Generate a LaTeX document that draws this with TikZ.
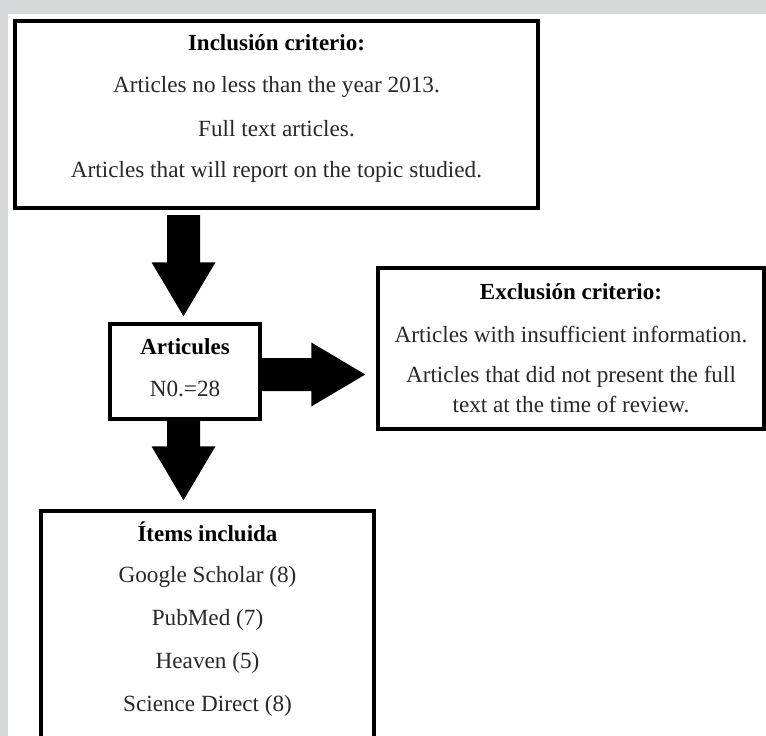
\documentclass[tikz,border=0pt]{standalone}
\usepackage{fontspec}
\setmainfont{Liberation Serif}
\usetikzlibrary{calc}
\definecolor{bandgrey}{RGB}{214,215,217}
\definecolor{txt}{RGB}{40,40,40}
\tikzset{
  box/.style={draw=black, line width=3.5pt, fill=white, inner sep=0pt},
  lbl/.style={text=txt, inner sep=0pt, font=\fontsize{23.2}{30}\selectfont, align=center},
  head/.style={lbl, font=\fontsize{23}{30}\selectfont\bfseries, text=black},
  blk/.style={fill=black}
}
\newcommand\dnblock[2]{%
  \fill[blk] ($(#1)+(-16.5,0)$) -- ($(#1)+(16.5,0)$) -- ($(#2)+(16.5,-54)$) -- ($(#2)+(32,-54)$) -- (#2) -- ($(#2)+(-32,-54)$) -- ($(#2)+(-16.5,-54)$) -- cycle;}
\newcommand\rtblock[2]{%
  \fill[blk] ($(#1)+(0,-16.5)$) -- ($(#1)+(0,16.5)$) -- ($(#2)+(-54,16.5)$) -- ($(#2)+(-54,32)$) -- (#2) -- ($(#2)+(-54,-32)$) -- ($(#2)+(-54,-16.5)$) -- cycle;}
\begin{document}
\begin{tikzpicture}[x=1pt,y=-1pt]
\useasboundingbox (0,0) rectangle (766,736);
\clip (0,0) rectangle (766,736);
\fill[white] (0,0) rectangle (766,736);
\fill[bandgrey] (0,0) rectangle (766,14);
\fill[bandgrey] (0,0) rectangle (7.5,736);

% boxes
\node[box, line width=4pt, minimum width=523pt, minimum height=187pt] (inc) at (276.5,114.5) {};
\node[box, minimum width=150pt, minimum height=95pt] (art) at (185,371.5) {};
\node[box, minimum width=386pt, minimum height=161pt] (exc) at (571,348.5) {};
\node[box, minimum width=333pt, minimum height=228pt] (itm) at (207.5,625) {};

% texts
\node[head] (inc1) at (276.5,43) {Inclusión criterio:};
\node[lbl] (inc2) at (276.5,87) {Articles no less than the year 2013.};
\node[lbl] (inc3) at (276.5,129) {Full text articles.};
\node[lbl] (inc4) at (276.5,172) {Articles that will report on the topic studied.};

\node[head] (art1) at (185,347) {Articules};
\node[lbl] (art2) at (185,389) {N0.=28};

\node[head] (exc1) at (571,292) {Exclusión criterio:};
\node[lbl] (exc2) at (571,334) {Articles with insufficient information.};
\node[lbl] (exc3) at (571,389) {Articles that did not present the full\\text at the time of review.};

\node[head] (itm1) at (207.5,532) {Ítems incluida};
\node[lbl] (itm2) at (207.5,577) {Google Scholar (8)};
\node[lbl] (itm3) at (207.5,620) {PubMed (7)};
\node[lbl] (itm4) at (207.5,663) {Heaven (5)};
\node[lbl] (itm5) at (207.5,706) {Science Direct (8)};

% block arrows
\coordinate (a1s) at ($(art.north |- inc.south)+(-1.5,5)$);
\coordinate (a1t) at ($(art.north)+(-1.5,-6)$);
\dnblock{a1s}{a1t}
\coordinate (a2s) at ($(art.east)+(0,3)$);
\coordinate (a2t) at ($(exc.west |- a2s)+(-11,0)$);
\rtblock{a2s}{a2t}
\coordinate (a3s) at ($(art.south)+(-1.5,0)$);
\coordinate (a3t) at ($(art.south |- itm.north)+(-1.5,-9)$);
\dnblock{a3s}{a3t}
\end{tikzpicture}
\end{document}
